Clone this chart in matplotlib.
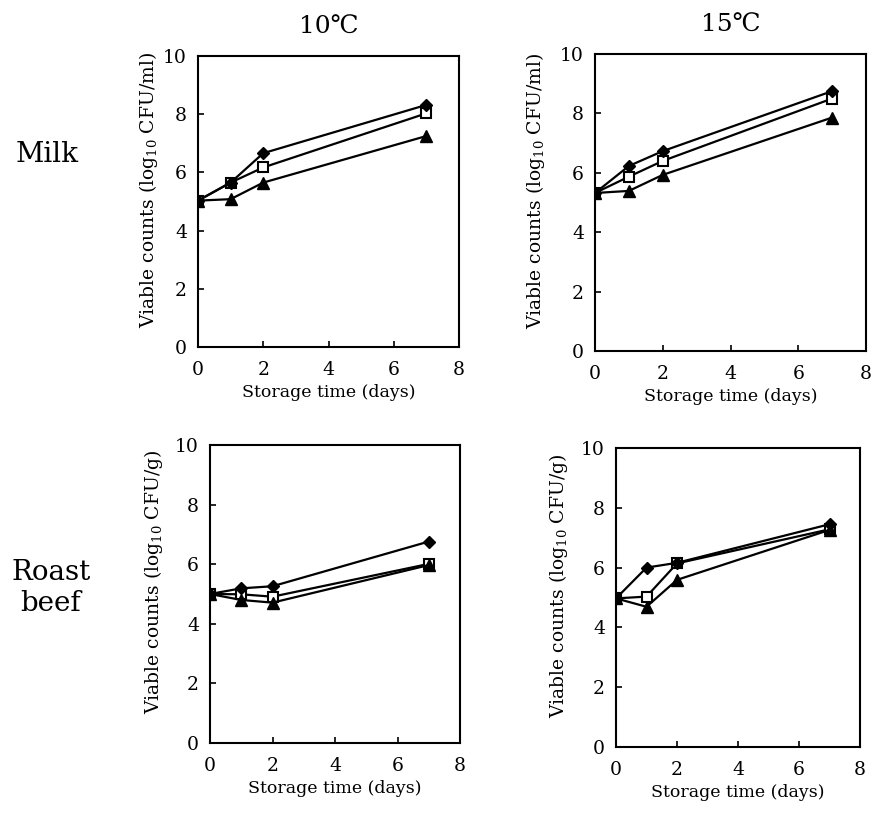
import matplotlib
matplotlib.use("Agg")
import matplotlib.pyplot as plt

plt.rcParams['font.family'] = ['DejaVu Serif', 'DejaVu Sans']
plt.rcParams['mathtext.fontset'] = 'dejavuserif'

days = [0, 1, 2, 7]

# Milk 10 C
milk10_diamond = [5.03, 5.65, 6.66, 8.32]
milk10_square = [5.03, 5.65, 6.17, 8.03]
milk10_triangle = [5.03, 5.08, 5.65, 7.25]

# Milk 15 C
milk15_diamond = [5.32, 6.23, 6.73, 8.75]
milk15_square = [5.32, 5.87, 6.40, 8.50]
milk15_triangle = [5.32, 5.39, 5.93, 7.86]

# Roast beef 10 C
beef10_diamond = [5.00, 5.19, 5.26, 6.76]
beef10_square = [5.00, 4.99, 4.91, 6.01]
beef10_triangle = [5.00, 4.80, 4.71, 5.97]

# Roast beef 15 C
beef15_diamond = [4.97, 6.00, 6.16, 7.45]
beef15_square = [4.97, 5.03, 6.14, 7.28]
beef15_triangle = [4.97, 4.69, 5.59, 7.26]

col_titles = ["10\u2103", "15\u2103"]
row_labels = ["Milk", "Roast\nbeef"]
xticks = [0, 2, 4, 6, 8]
yticks = [0, 2, 4, 6, 8, 10]
xlabel = "Storage time (days)"
ylabels = [r"Viable counts (log$_{10}$ CFU/ml)", r"Viable counts (log$_{10}$ CFU/g)"]

W, H = 872, 814
fig = plt.figure(figsize=(W / 100, H / 100), dpi=100)

# boxes in pixels: left, right, top, bottom
boxes = [
    (198, 459, 56, 347),
    (595, 866, 54, 351),
    (210, 460, 445, 743),
    (616, 860, 448, 747),
]
ylab_right = [160, 547, 165, 570]

panels = [
    (milk10_diamond, milk10_square, milk10_triangle),
    (milk15_diamond, milk15_square, milk15_triangle),
    (beef10_diamond, beef10_square, beef10_triangle),
    (beef15_diamond, beef15_square, beef15_triangle),
]

for i, ((l, r, t, b), (dia, sq, tri)) in enumerate(zip(boxes, panels)):
    ax = fig.add_axes([l / W, 1 - b / H, (r - l) / W, (b - t) / H])
    lw = 1.6
    ax.plot(days, sq, color='black', lw=lw, marker='s', ms=6.5,
            mfc='white', mec='black', mew=1.5, zorder=3)
    ax.plot(days, tri, color='black', lw=lw, marker='^', ms=8,
            mfc='black', mec='black', zorder=4)
    ax.plot(days, dia, color='black', lw=lw, marker='D', ms=6,
            mfc='black', mec='black', zorder=5)
    ax.set_xlim(0, 8)
    ax.set_ylim(0, 10)
    ax.set_xticks(xticks)
    ax.set_yticks(yticks)
    ax.tick_params(direction='in', length=4, width=1.2, labelsize=13.5)
    ax.tick_params(axis='x', pad=10)
    ax.tick_params(axis='y', pad=8)
    for s in ax.spines.values():
        s.set_linewidth(1.5)
    ax.set_xlabel(xlabel, fontsize=12.5, labelpad=4)
    ax.set_ylabel(ylabels[i // 2], fontsize=13.5)
    ax.yaxis.set_label_coords((ylab_right[i] - l) / (r - l), 0.54)
    if i < 2:
        ax.set_title(col_titles[i], fontsize=18, pad=16)

fig.text(47 / W, 1 - 155 / H, row_labels[0], fontsize=20,
         ha='center', va='center')
fig.text(51 / W, 1 - 588 / H, row_labels[1], fontsize=20,
         ha='center', va='center', linespacing=1.2)

fig.savefig("out.png", dpi=100)
